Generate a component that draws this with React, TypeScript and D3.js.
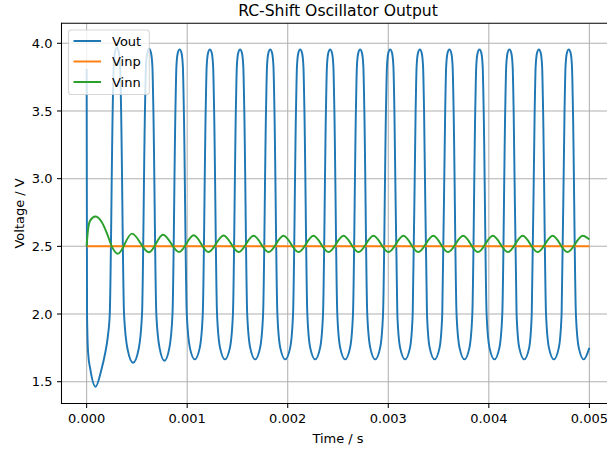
import * as d3 from 'd3';

// time in microseconds, voltage in volts
const voutPoints: [number, number][] = [
  [0, 3.81], [4, 2.0], [15, 1.71], [38, 1.586], [89, 1.463], [146, 1.586], [184, 1.71], [210, 1.83], [230, 2.0],
  [259, 3.5], [269, 3.83], [283, 3.94], [301, 3.97], [319, 3.94], [333, 3.83], [343, 3.5], [372, 2.0], [407, 1.74], [462, 1.64], [517, 1.74],
  [551, 2.0], [580, 3.5], [590, 3.83], [604, 3.93], [622, 3.96], [640, 3.93], [654, 3.83], [664, 3.5], [693, 2.0], [725, 1.75], [774, 1.655], [823, 1.75],
  [854, 2.0], [883, 3.5], [893, 3.83], [907, 3.93], [925, 3.955], [943, 3.93], [957, 3.83], [967, 3.5], [996, 2.0], [1027, 1.75], [1076, 1.665], [1125, 1.75],
  [1155, 2.0], [1184, 3.5], [1194, 3.83], [1208, 3.93], [1226, 3.955], [1244, 3.93], [1258, 3.83], [1268, 3.5], [1297, 2.0], [1327, 1.75], [1376, 1.665], [1425, 1.75],
  [1455, 2.0], [1484, 3.5], [1494, 3.83], [1508, 3.93], [1526, 3.955], [1544, 3.93], [1558, 3.83], [1568, 3.5], [1597, 2.0], [1627, 1.75], [1676, 1.665], [1725, 1.75],
  [1755, 2.0], [1784, 3.5], [1794, 3.83], [1808, 3.93], [1826, 3.955], [1844, 3.93], [1858, 3.83], [1868, 3.5], [1897, 2.0], [1926, 1.75], [1975, 1.665], [2024, 1.75],
  [2053, 2.0], [2082, 3.5], [2092, 3.83], [2106, 3.93], [2124, 3.955], [2142, 3.93], [2156, 3.83], [2166, 3.5], [2195, 2.0], [2224, 1.75], [2273, 1.665], [2322, 1.75],
  [2351, 2.0], [2380, 3.5], [2390, 3.83], [2404, 3.93], [2422, 3.955], [2440, 3.93], [2454, 3.83], [2464, 3.5], [2493, 2.0], [2522, 1.75], [2571, 1.665], [2620, 1.75],
  [2649, 2.0], [2678, 3.5], [2688, 3.83], [2702, 3.93], [2720, 3.955], [2738, 3.93], [2752, 3.83], [2762, 3.5], [2791, 2.0], [2821, 1.75], [2870, 1.665], [2919, 1.75],
  [2948, 2.0], [2977, 3.5], [2987, 3.83], [3001, 3.93], [3019, 3.955], [3037, 3.93], [3051, 3.83], [3061, 3.5], [3090, 2.0], [3118, 1.75], [3167, 1.665], [3216, 1.75],
  [3243, 2.0], [3272, 3.5], [3282, 3.83], [3296, 3.93], [3314, 3.955], [3332, 3.93], [3346, 3.83], [3356, 3.5], [3385, 2.0], [3412, 1.75], [3461, 1.665], [3510, 1.75],
  [3537, 2.0], [3566, 3.5], [3576, 3.83], [3590, 3.93], [3608, 3.955], [3626, 3.93], [3640, 3.83], [3650, 3.5], [3679, 2.0], [3709, 1.75], [3758, 1.665], [3807, 1.75],
  [3836, 2.0], [3865, 3.5], [3875, 3.83], [3889, 3.93], [3907, 3.955], [3925, 3.93], [3939, 3.83], [3949, 3.5], [3978, 2.0], [4007, 1.75], [4056, 1.665], [4105, 1.75],
  [4134, 2.0], [4163, 3.5], [4173, 3.83], [4187, 3.93], [4205, 3.955], [4223, 3.93], [4237, 3.83], [4247, 3.5], [4276, 2.0], [4303, 1.75], [4352, 1.665], [4401, 1.75],
  [4427, 2.0], [4456, 3.5], [4466, 3.83], [4480, 3.93], [4498, 3.955], [4516, 3.93], [4530, 3.83], [4540, 3.5], [4569, 2.0], [4598, 1.75], [4647, 1.665], [4696, 1.75],
  [4724, 2.0], [4753, 3.5], [4763, 3.83], [4777, 3.93], [4795, 3.955], [4813, 3.93], [4827, 3.83], [4837, 3.5], [4866, 2.0], [4895, 1.75], [4944, 1.665], [5000, 1.75],
];

const vinpPoints: [number, number][] = [[0, 2.5], [5000, 2.5]];

const vinnPoints: [number, number][] = [
  [0, 2.5], [12, 2.61], [35, 2.69], [85, 2.72], [150, 2.68], [200, 2.6], [250, 2.5], [311, 2.445],
  [450, 2.594], [620, 2.456], [760, 2.586], [918, 2.458], [1065, 2.582], [1212, 2.458], [1362, 2.58],
  [1512, 2.458], [1660, 2.578], [1810, 2.458], [1958, 2.578], [2108, 2.458], [2256, 2.578], [2406, 2.458],
  [2555, 2.578], [2704, 2.458], [2853, 2.578], [3002, 2.458], [3151, 2.578], [3298, 2.458], [3448, 2.578],
  [3594, 2.458], [3745, 2.578], [3892, 2.458], [4040, 2.578], [4190, 2.458], [4337, 2.578], [4486, 2.458],
  [4635, 2.578], [4782, 2.458], [4935, 2.578], [5000, 2.55],
];

const xTickValues = [0, 0.001, 0.002, 0.003, 0.004, 0.005];
const yTickValues = [1.5, 2.0, 2.5, 3.0, 3.5, 4.0];

const series = [
  { name: 'Vout', color: '#1f77b4', points: voutPoints },
  { name: 'Vinp', color: '#ff7f0e', points: vinpPoints },
  { name: 'Vinn', color: '#2ca02c', points: vinnPoints },
];

const W = 607;
const H = 449;
const plot = { left: 61.5, right: 614.5, top: 23.3, bottom: 403.5 };
const font = 'DejaVu Sans, sans-serif';
const grid = '#b0b0b0';

export default function App() {
  const x = d3.scaleLinear().domain([-0.00025, 0.00525]).range([plot.left, plot.right]);
  const y = d3.scaleLinear().domain([1.339, 4.1477]).range([plot.bottom, plot.top]);

  const line = d3
    .line<[number, number]>()
    .x((d) => x(d[0] / 1e6))
    .y((d) => y(d[1]))
    .curve(d3.curveMonotoneX);

  const midX = (plot.left + plot.right) / 2;
  const midY = (plot.top + plot.bottom) / 2;

  return (
    <svg
      width={W}
      height={H}
      viewBox={`0 0 ${W} ${H}`}
      style={{ position: 'absolute', left: 0, top: 0, background: '#fff' }}
      fontFamily={font}
    >
      <defs>
        <clipPath id="plot-clip">
          <rect x={plot.left} y={plot.top} width={plot.right - plot.left} height={plot.bottom - plot.top} />
        </clipPath>
      </defs>

      {/* grid */}
      {xTickValues.map((t) => (
        <line key={`xg-${t}`} x1={x(t)} x2={x(t)} y1={plot.top} y2={plot.bottom} stroke={grid} strokeWidth={1.04} />
      ))}
      {yTickValues.map((t) => (
        <line key={`yg-${t}`} x1={plot.left} x2={plot.right} y1={y(t)} y2={y(t)} stroke={grid} strokeWidth={1.04} />
      ))}

      {/* series */}
      <g clipPath="url(#plot-clip)">
        {series.map((s) => (
          <path key={s.name} d={line(s.points) ?? ''} fill="none" stroke={s.color} strokeWidth={1.95} strokeLinejoin="round" />
        ))}
      </g>

      {/* spines */}
      <g stroke="#000" strokeWidth={1.04} strokeLinecap="square">
        <line x1={plot.left} x2={plot.left} y1={plot.top} y2={plot.bottom} />
        <line x1={plot.left} x2={plot.right} y1={plot.bottom} y2={plot.bottom} />
        <line x1={plot.left} x2={plot.right} y1={plot.top} y2={plot.top} />
        <line x1={plot.right} x2={plot.right} y1={plot.top} y2={plot.bottom} />
      </g>

      {/* x axis */}
      {xTickValues.map((t) => (
        <g key={`xt-${t}`} transform={`translate(${x(t)},${plot.bottom})`}>
          <line y1={0} y2={4.5} stroke="#000" strokeWidth={1.04} />
          <text y={19.5} textAnchor="middle" fontSize={13} fill="#000">
            {d3.format('.3f')(t)}
          </text>
        </g>
      ))}
      <text x={midX} y={442.7} textAnchor="middle" fontSize={13} fill="#000">
        Time / s
      </text>

      {/* y axis */}
      {yTickValues.map((t) => (
        <g key={`yt-${t}`} transform={`translate(${plot.left},${y(t)})`}>
          <line x1={-4.5} x2={0} stroke="#000" strokeWidth={1.04} />
          <text x={-9} y={4.7} textAnchor="end" fontSize={13} fill="#000">
            {d3.format('.1f')(t)}
          </text>
        </g>
      ))}
      <text
        transform={`translate(23.5,${midY}) rotate(-90)`}
        textAnchor="middle"
        fontSize={13}
        fill="#000"
      >
        Voltage / V
      </text>

      {/* title */}
      <text x={midX} y={15.5} textAnchor="middle" fontSize={15.6} fill="#000">
        RC-Shift Oscillator Output
      </text>

      {/* legend */}
      <g>
        <rect x={68.5} y={30} width={80.8} height={64.6} rx={2.6} fill="#fff" fillOpacity={0.8} stroke="#ccc" strokeOpacity={0.8} strokeWidth={1.04} />
        {series.map((s, i) => {
          const ly = 41 + i * 20.5;
          return (
            <g key={`lg-${s.name}`}>
              <line x1={73.5} x2={101} y1={ly} y2={ly} stroke={s.color} strokeWidth={1.95} />
              <text x={112} y={ly + 4.7} fontSize={13} fill="#000">
                {s.name}
              </text>
            </g>
          );
        })}
      </g>
    </svg>
  );
}
